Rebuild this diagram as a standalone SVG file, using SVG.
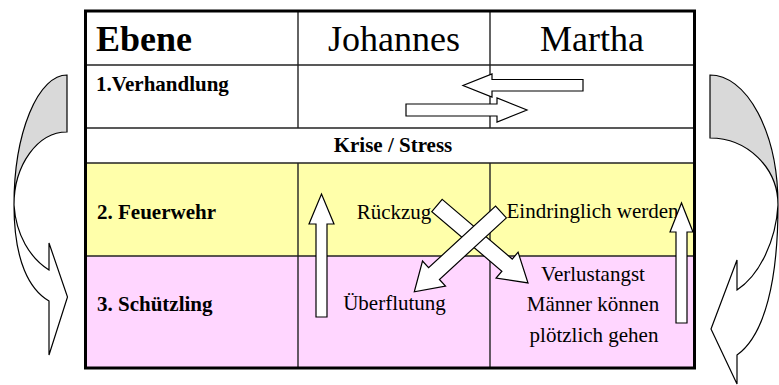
<svg xmlns="http://www.w3.org/2000/svg" width="779" height="385" viewBox="0 0 779 385">
  <style>
    text { font-family: "Liberation Serif", "Times New Roman", serif; fill: #000; }
    .big { font-size: 36px; }
    .lbl { font-size: 21px; font-weight: bold; }
    .txt { font-size: 21px; }
    .grid { stroke: #222; stroke-width: 1.4; fill: none; }
    .frame { stroke: #000; stroke-width: 3; fill: none; }
    .arrow { fill: #fff; stroke: #000; stroke-width: 1.2; stroke-linejoin: miter; }
    .back { fill: #d9d9d9; stroke: #000; stroke-width: 1.2; }
  </style>

  <!-- row backgrounds -->
  <rect x="85.5" y="11" width="609" height="357" fill="#fff"/>
  <rect x="85.5" y="163" width="609" height="93" fill="#ffffaa"/>
  <rect x="85.5" y="256" width="609" height="112" fill="#ffd6ff"/>

  <!-- table rules -->
  <g id="grid">
    <line class="grid" x1="85.5" y1="65" x2="694.5" y2="65"/>
    <line class="grid" x1="85.5" y1="128" x2="694.5" y2="128"/>
    <line class="grid" x1="85.5" y1="163" x2="694.5" y2="163"/>
    <line class="grid" x1="85.5" y1="256" x2="694.5" y2="256"/>
    <line class="grid" x1="298" y1="11" x2="298" y2="128"/>
    <line class="grid" x1="490" y1="11" x2="490" y2="128"/>
    <line class="grid" x1="298" y1="163" x2="298" y2="368"/>
    <line class="grid" x1="490" y1="163" x2="490" y2="368"/>
    <rect class="frame" x="85.5" y="11" width="609" height="357"/>
  </g>

  <!-- header row -->
  <g id="head-ebene"><text class="big" x="96" y="51" font-weight="bold">Ebene</text></g>
  <g id="head-johannes"><text class="big" x="394" y="51" text-anchor="middle">Johannes</text></g>
  <g id="head-martha"><text class="big" x="592" y="51" text-anchor="middle">Martha</text></g>

  <!-- level rows -->
  <g id="level-1"><text class="lbl" x="96" y="91">1.Verhandlung</text></g>
  <g id="crisis"><text class="lbl" x="393" y="152" text-anchor="middle">Krise / Stress</text></g>
  <g id="level-2"><text class="lbl" x="97" y="219">2. Feuerwehr</text></g>
  <g id="level-3"><text class="lbl" x="97" y="311">3. Schützling</text></g>

  <!-- cell contents -->
  <g id="j-rueckzug"><text class="txt" x="394" y="219" text-anchor="middle">Rückzug</text></g>
  <g id="m-eindringlich"><text class="txt" x="592.5" y="218" text-anchor="middle">Eindringlich werden</text></g>
  <g id="j-ueberflutung"><text class="txt" x="394.5" y="310" text-anchor="middle">Überflutung</text></g>
  <g id="m-verlustangst">
    <text class="txt" x="593" y="281" text-anchor="middle">Verlustangst</text>
    <text class="txt" x="593" y="311" text-anchor="middle">Männer können</text>
    <text class="txt" x="594" y="342" text-anchor="middle">plötzlich gehen</text>
  </g>

  <!-- connectors -->
  <g id="connectors">
    <!-- negotiation: Martha to Johannes, Johannes to Martha -->
    <polygon class="arrow" points="583,79.5 492,79.5 492,74 463,85.5 492,97 492,91 583,91"/>
    <polygon class="arrow" points="406,104 497,104 497,98 527,110 497,122 497,116 406,116"/>

    <!-- escalation inside each person -->
    <polygon class="arrow" points="316,317 316,224 309,224 321.5,194 334,224 327,224 327,317"/>
    <polygon class="arrow" points="676,323 676,232 670,232 681.5,203 693,232 687,232 687,323"/>

    <!-- crossing arrows -->
    <polygon class="arrow" transform="translate(437 205.5) rotate(40.4)" points="0,-8 92,-8 92,-17 119.5,0 92,17 92,8 0,8"/>
    <polygon class="arrow" transform="translate(501 212) rotate(137.4)" points="0,-8 91,-8 91,-17 117.8,0 91,17 91,8 0,8"/>

    <!-- left curved arrow -->
    <g id="curve-left">
      <path class="back" d="M67,75 A53,130 0 0 0 14,205 A53,73 0 0 1 67,132 Z"/>
      <path class="arrow" d="M14,205 C16,235 30,258 49,270 L49,243 L67.5,297 L49,355 L49,301 C30,290 14,262 14,205 Z"/>
    </g>

    <!-- right curved arrow -->
    <g id="curve-right">
      <path class="back" d="M710,75 A68,130 0 0 1 778,205 A68,67 0 0 0 710,138 Z"/>
      <path class="arrow" d="M778,205 C776,240 760,275 737,290 L737,260 L711,329 L737,384 L737,355 C765,335 778,280 778,205 Z"/>
    </g>
  </g>
</svg>
